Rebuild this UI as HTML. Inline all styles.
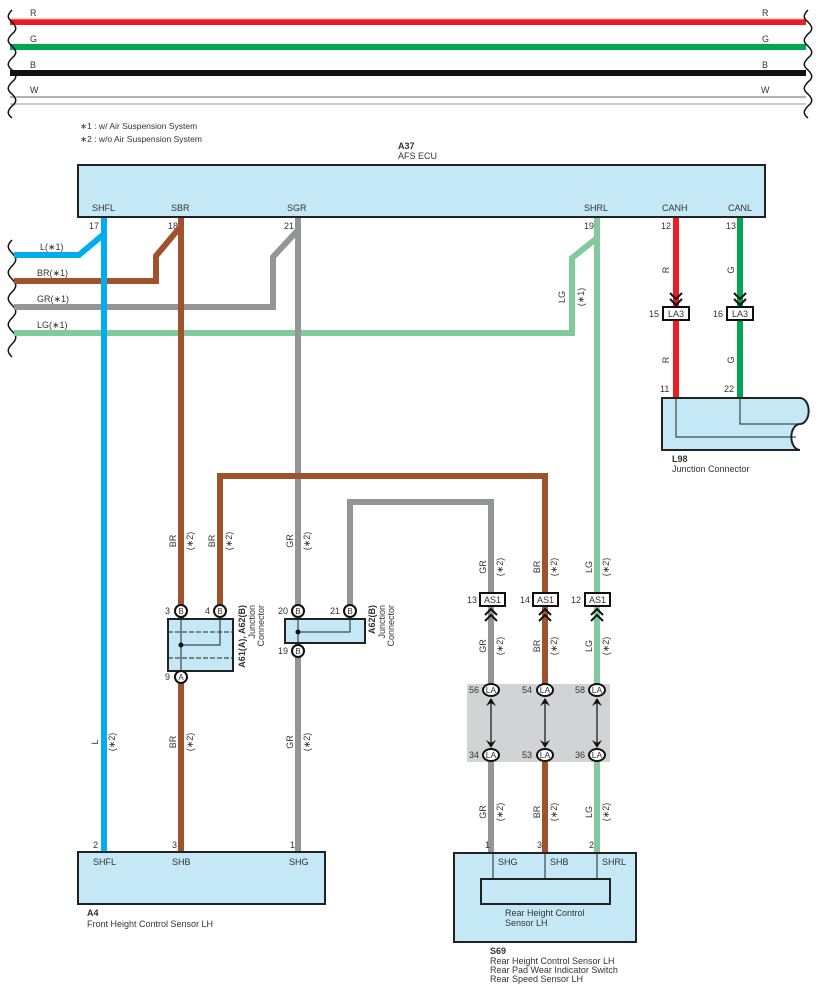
<!DOCTYPE html>
<html><head><meta charset="utf-8"><style>
html,body{margin:0;padding:0;background:#fff}
svg{display:block;font-family:"Liberation Sans",Arial,sans-serif;font-size:9px;fill:#333}
text{fill:#333}
.b{font-weight:bold}
</style></head><body>
<svg width="817" height="996" viewBox="0 0 817 996" xmlns="http://www.w3.org/2000/svg">
<!-- top bus -->
<g fill="none">
<line x1="10" y1="22" x2="806" y2="22" stroke="#ed1c24" stroke-width="6"/>
<line x1="10" y1="19" x2="806" y2="19" stroke="#f4a0a4" stroke-width="1"/>
<line x1="10" y1="47" x2="806" y2="47" stroke="#00a651" stroke-width="6"/>
<line x1="10" y1="73" x2="806" y2="73" stroke="#111" stroke-width="6"/>
<line x1="10" y1="97" x2="806" y2="97" stroke="#666" stroke-width="1"/>
<line x1="10" y1="104" x2="806" y2="104" stroke="#ccc" stroke-width="2"/>
</g>
<g fill="none" stroke="#111" stroke-width="1.5">
<path d="M12,10 c-5,5 -5,8 0,12 c5,5 5,8 0,12 c-5,5 -5,8 0,12 c5,5 5,8 0,12 c-5,5 -5,8 0,12 c5,5 5,8 0,12 c-5,5 -5,8 0,12 c5,5 5,8 0,12 c-5,5 -5,8 0,12"/>
<path d="M808,10 c-5,5 -5,8 0,12 c5,5 5,8 0,12 c-5,5 -5,8 0,12 c5,5 5,8 0,12 c-5,5 -5,8 0,12 c5,5 5,8 0,12 c-5,5 -5,8 0,12 c5,5 5,8 0,12 c-5,5 -5,8 0,12"/>
<path d="M12,240 c-5,5 -5,8 0,13 c5,5 5,8 0,13 c-5,5 -5,8 0,13 c5,5 5,8 0,13 c-5,5 -5,8 0,13 c5,5 5,8 0,13 c-5,5 -5,8 0,13 c5,5 5,8 0,13 c-5,5 -5,8 0,13"/>
</g>
<text x="30" y="16">R</text>
<text x="30" y="42">G</text>
<text x="30" y="68">B</text>
<text x="30" y="93">W</text>
<text x="762" y="16">R</text><text x="762" y="42">G</text><text x="762" y="68">B</text><text x="761" y="93">W</text>

<text x="80" y="129" font-size="8.5">∗1 : w/ Air Suspension System</text>
<text x="80" y="142" font-size="8.5">∗2 : w/o Air Suspension System</text>
<text x="398" y="149" class="b">A37</text>
<text x="398" y="159">AFS ECU</text>
<rect x="78" y="165" width="687" height="52" fill="#c5e8f7" stroke="#222" stroke-width="2"/>
<text x="92" y="211">SHFL</text><text x="171" y="211">SBR</text><text x="287" y="211">SGR</text>
<text x="584" y="211">SHRL</text><text x="662" y="211">CANH</text><text x="728" y="211">CANL</text>
<text x="89" y="229">17</text><text x="168" y="229">18</text><text x="284" y="229">21</text>
<text x="584" y="229">19</text><text x="661" y="229">12</text><text x="726" y="229">13</text>

<g fill="none" stroke-width="6" stroke-linejoin="miter">
<path d="M14,255 H79 L104,234" stroke="#00aeef"/>
<path d="M14,281 H156 V256 L181,226" stroke="#a0522d"/>
<path d="M14,307 H273 V257 L298,230" stroke="#939598"/>
<path d="M14,333 H572 V258 L597,238" stroke="#82ca9c"/>
<line x1="104" y1="218" x2="104" y2="852" stroke="#00aeef"/>
<line x1="181" y1="218" x2="181" y2="852" stroke="#a0522d"/>
<line x1="298" y1="218" x2="298" y2="852" stroke="#939598"/>
<line x1="597" y1="218" x2="597" y2="852" stroke="#82ca9c"/>
<line x1="676" y1="218" x2="676" y2="398" stroke="#ed1c24"/>
<line x1="740" y1="218" x2="740" y2="398" stroke="#00a651"/>
<path d="M220,610 V476 H545 V852" stroke="#a0522d"/>
<path d="M350,610 V502 H491 V852" stroke="#939598"/>
</g>
<text x="40" y="250">L(∗1)</text><text x="37" y="276">BR(∗1)</text><text x="37" y="302">GR(∗1)</text><text x="37" y="328">LG(∗1)</text>

<g font-size="9">
<text transform="translate(565,297) rotate(-90)" text-anchor="middle">LG</text>
<text transform="translate(584,297) rotate(-90)" text-anchor="middle">(∗1)</text>
<text transform="translate(669,270) rotate(-90)" text-anchor="middle">R</text>
<text transform="translate(734,270) rotate(-90)" text-anchor="middle">G</text>
<text transform="translate(669,360) rotate(-90)" text-anchor="middle">R</text>
<text transform="translate(734,360) rotate(-90)" text-anchor="middle">G</text>
<text transform="translate(176,541) rotate(-90)" text-anchor="middle">BR</text>
<text transform="translate(193,541) rotate(-90)" text-anchor="middle">(∗2)</text>
<text transform="translate(215,541) rotate(-90)" text-anchor="middle">BR</text>
<text transform="translate(232,541) rotate(-90)" text-anchor="middle">(∗2)</text>
<text transform="translate(293,541) rotate(-90)" text-anchor="middle">GR</text>
<text transform="translate(310,541) rotate(-90)" text-anchor="middle">(∗2)</text>
<text transform="translate(98,742) rotate(-90)" text-anchor="middle">L</text>
<text transform="translate(115,742) rotate(-90)" text-anchor="middle">(∗2)</text>
<text transform="translate(176,742) rotate(-90)" text-anchor="middle">BR</text>
<text transform="translate(193,742) rotate(-90)" text-anchor="middle">(∗2)</text>
<text transform="translate(293,742) rotate(-90)" text-anchor="middle">GR</text>
<text transform="translate(310,742) rotate(-90)" text-anchor="middle">(∗2)</text>
<text transform="translate(486,567) rotate(-90)" text-anchor="middle">GR</text>
<text transform="translate(503,567) rotate(-90)" text-anchor="middle">(∗2)</text>
<text transform="translate(540,567) rotate(-90)" text-anchor="middle">BR</text>
<text transform="translate(557,567) rotate(-90)" text-anchor="middle">(∗2)</text>
<text transform="translate(592,567) rotate(-90)" text-anchor="middle">LG</text>
<text transform="translate(609,567) rotate(-90)" text-anchor="middle">(∗2)</text>
<text transform="translate(486,646) rotate(-90)" text-anchor="middle">GR</text>
<text transform="translate(503,646) rotate(-90)" text-anchor="middle">(∗2)</text>
<text transform="translate(540,646) rotate(-90)" text-anchor="middle">BR</text>
<text transform="translate(557,646) rotate(-90)" text-anchor="middle">(∗2)</text>
<text transform="translate(592,646) rotate(-90)" text-anchor="middle">LG</text>
<text transform="translate(609,646) rotate(-90)" text-anchor="middle">(∗2)</text>
<text transform="translate(486,812) rotate(-90)" text-anchor="middle">GR</text>
<text transform="translate(503,812) rotate(-90)" text-anchor="middle">(∗2)</text>
<text transform="translate(540,812) rotate(-90)" text-anchor="middle">BR</text>
<text transform="translate(557,812) rotate(-90)" text-anchor="middle">(∗2)</text>
<text transform="translate(592,812) rotate(-90)" text-anchor="middle">LG</text>
<text transform="translate(609,812) rotate(-90)" text-anchor="middle">(∗2)</text>
</g>

<g fill="none" stroke="#111" stroke-width="2">
<path d="M670,293 l6,6 l6,-6 M670,299 l6,6 l6,-6"/>
<path d="M734,293 l6,6 l6,-6 M734,299 l6,6 l6,-6"/>
</g>
<rect x="663" y="307" width="26" height="13" fill="#fff" stroke="#111" stroke-width="2"/>
<rect x="727" y="307" width="26" height="13" fill="#fff" stroke="#111" stroke-width="2"/>
<text x="668" y="317">LA3</text><text x="732" y="317">LA3</text>
<text x="649" y="317">15</text><text x="713" y="317">16</text>
<text x="660" y="392">11</text><text x="724" y="392">22</text>
<path d="M662,398 H800 a8,12 0 0 1 0,26 a8,12 0 0 0 0,26 H662 Z" fill="#c5e8f7" stroke="#222" stroke-width="2"/>
<path d="M676,398 V437 H796 M740,398 V424 H802" fill="none" stroke="#222" stroke-width="1"/>
<text x="672" y="462" class="b">L98</text><text x="672" y="472">Junction Connector</text>

<rect x="168" y="619" width="65" height="52" fill="#c5e8f7" stroke="#222" stroke-width="2"/>
<path d="M168,632 H233 M168,658 H233" stroke="#222" stroke-width="1" stroke-dasharray="5,2"/>
<path d="M181,610 V677 M220,610 V645 H181" fill="none" stroke="#222" stroke-width="1"/>
<circle cx="181" cy="645" r="2.5" fill="#111"/>
<rect x="285" y="619" width="80" height="24" fill="#c5e8f7" stroke="#222" stroke-width="2"/>
<path d="M298,610 V651 M350,610 V632 H298" fill="none" stroke="#222" stroke-width="1"/>
<circle cx="298" cy="632" r="2.5" fill="#111"/>
<g fill="#fff" stroke="#111" stroke-width="2">
<circle cx="181" cy="611" r="6"/><circle cx="220" cy="611" r="6"/><circle cx="181" cy="677" r="6"/>
<circle cx="298" cy="611" r="6"/><circle cx="350" cy="611" r="6"/><circle cx="298" cy="651" r="6"/>
</g>
<g font-size="8" text-anchor="middle">
<text x="181" y="614">B</text><text x="220" y="614">B</text><text x="181" y="680">A</text>
<text x="298" y="614">B</text><text x="350" y="614">B</text><text x="298" y="654">B</text>
</g>
<text x="165" y="614">3</text><text x="205" y="614">4</text><text x="165" y="680">9</text>
<text x="278" y="614">20</text><text x="330" y="614">21</text><text x="278" y="654">19</text>
<text transform="translate(245,605) rotate(-90)" text-anchor="end" class="b">A61(A), A62(B)</text>
<text transform="translate(255,605) rotate(-90)" text-anchor="end">Junction</text>
<text transform="translate(264,605) rotate(-90)" text-anchor="end">Connector</text>
<text transform="translate(375,605) rotate(-90)" text-anchor="end" class="b">A62(B)</text>
<text transform="translate(385,605) rotate(-90)" text-anchor="end">Junction</text>
<text transform="translate(394,605) rotate(-90)" text-anchor="end">Connector</text>

<g fill="#fff" stroke="#111" stroke-width="2">
<rect x="480" y="593" width="25" height="13"/><rect x="533" y="593" width="25" height="13"/><rect x="585" y="593" width="25" height="13"/>
</g>
<text x="484" y="603">AS1</text><text x="537" y="603">AS1</text><text x="589" y="603">AS1</text>
<text x="467" y="603">13</text><text x="520" y="603">14</text><text x="571" y="603">12</text>
<g fill="none" stroke="#111" stroke-width="2">
<path d="M485,615 l6,-6 l6,6 M485,621 l6,-6 l6,6"/>
<path d="M539,615 l6,-6 l6,6 M539,621 l6,-6 l6,6"/>
<path d="M591,615 l6,-6 l6,6 M591,621 l6,-6 l6,6"/>
</g>
<rect x="467" y="684" width="143" height="78" fill="#d1d3d4"/>
<g stroke="#111" stroke-width="1.2">
<line x1="491" y1="700" x2="491" y2="746"/><line x1="545" y1="700" x2="545" y2="746"/><line x1="597" y1="700" x2="597" y2="746"/>
</g>
<g fill="#111">
<path d="M486,706 l5,-8 l5,8 l-5,-3z"/><path d="M486,740 l5,8 l5,-8 l-5,3z"/>
<path d="M540,706 l5,-8 l5,8 l-5,-3z"/><path d="M540,740 l5,8 l5,-8 l-5,3z"/>
<path d="M592,706 l5,-8 l5,8 l-5,-3z"/><path d="M592,740 l5,8 l5,-8 l-5,3z"/>
</g>
<g fill="#fff" stroke="#111" stroke-width="2">
<ellipse cx="491" cy="690" rx="8" ry="6"/><ellipse cx="545" cy="690" rx="8" ry="6"/><ellipse cx="597" cy="690" rx="8" ry="6"/>
<ellipse cx="491" cy="755" rx="8" ry="6"/><ellipse cx="545" cy="755" rx="8" ry="6"/><ellipse cx="597" cy="755" rx="8" ry="6"/>
</g>
<g font-size="8.5" text-anchor="middle">
<text x="491" y="693">LA</text><text x="545" y="693">LA</text><text x="597" y="693">LA</text>
<text x="491" y="758">LA</text><text x="545" y="758">LA</text><text x="597" y="758">LA</text>
</g>
<text x="469" y="693">56</text><text x="522" y="693">54</text><text x="575" y="693">58</text>
<text x="469" y="758">34</text><text x="522" y="758">53</text><text x="575" y="758">36</text>

<rect x="78" y="852" width="247" height="52" fill="#c5e8f7" stroke="#222" stroke-width="2"/>
<text x="93" y="848">2</text><text x="172" y="848">3</text><text x="290" y="848">1</text>
<text x="93" y="865">SHFL</text><text x="172" y="865">SHB</text><text x="289" y="865">SHG</text>
<text x="87" y="916" class="b">A4</text><text x="87" y="927">Front Height Control Sensor LH</text>

<rect x="454" y="853" width="182" height="89" fill="#c5e8f7" stroke="#222" stroke-width="2"/>
<path d="M493,853 V879 M545,853 V879 M597,853 V879" stroke="#222" stroke-width="1"/>
<rect x="481" y="879" width="129" height="25" fill="#c5e8f7" stroke="#222" stroke-width="2"/>
<text x="485" y="848">1</text><text x="537" y="848">3</text><text x="589" y="848">2</text>
<text x="498" y="865">SHG</text><text x="550" y="865">SHB</text><text x="602" y="865">SHRL</text>
<text x="505" y="916">Rear Height Control</text><text x="505" y="926">Sensor LH</text>
<text x="490" y="954" class="b">S69</text>
<text x="490" y="964">Rear Height Control Sensor LH</text>
<text x="490" y="973">Rear Pad Wear Indicator Switch</text>
<text x="490" y="982">Rear Speed Sensor LH</text>
</svg>
</body></html>
